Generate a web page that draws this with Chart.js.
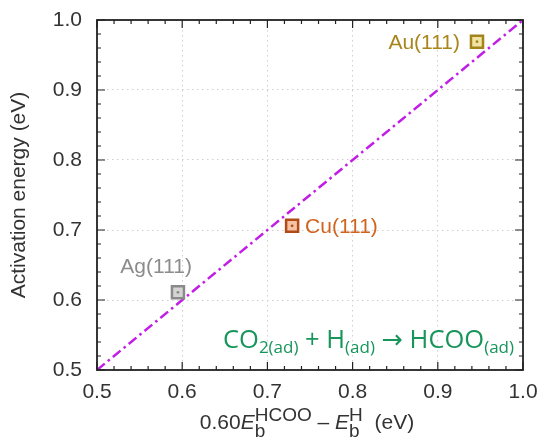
<!DOCTYPE html>
<html lang="en">
<head>
<meta charset="UTF-8">
<title>Activation energy vs binding-energy descriptor</title>
<script src="https://cdn.jsdelivr.net/npm/chart.js"></script>
<style>
  * { margin: 0; padding: 0; box-sizing: border-box; }
  html, body { width: 539px; height: 440px; background: #fff; overflow: hidden; }
</style>
</head>
<body>
<canvas id="chart" width="539" height="440"></canvas>
<script>
// values
const surfaces = ['Au(111)', 'Cu(111)', 'Ag(111)'];
const descriptor = [0.946, 0.729, 0.595];   // 0.60 Eb(HCOO) - Eb(H), eV
const barrier = [0.969, 0.706, 0.611];      // activation energy, eV
const parityX = [0.5, 1.0];
const parityY = [0.5, 1.0];
const tickValues = [0.5, 0.6, 0.7, 0.8, 0.9, 1.0];

// styling
const FONT = "'Liberation Sans', Arial, sans-serif";
const edgeColors = ['#a3841a', '#b24c17', '#8a8a8a'];
const fillColors = ['#f1e3a6', '#f4c3a3', '#d4d4d4'];
const textColors = ['#a8861c', '#cf641f', '#8c8c8c'];
// label placement relative to marker: [dx, dy, align]
const labelPlace = [[-17, 7, 'right'], [13, 7, 'left'], [14, -19, 'right']];

function drawRuns(ctx, runs, x, y, align, color) {
  const widthOf = r => {
    if (r.sub !== undefined || r.sup !== undefined) {
      ctx.font = r.size + 'px ' + r.family;
      return Math.max(ctx.measureText(r.sub || '').width, ctx.measureText(r.sup || '').width);
    }
    ctx.font = (r.italic ? 'italic ' : '') + r.size + 'px ' + r.family;
    return ctx.measureText(r.t).width;
  };
  const total = runs.reduce((s, r) => s + widthOf(r), 0);
  let cx = align === 'right' ? x - total : align === 'center' ? x - total / 2 : x;
  ctx.fillStyle = color;
  ctx.textAlign = 'left';
  ctx.textBaseline = 'alphabetic';
  runs.forEach(r => {
    const w = widthOf(r);
    if (r.sub !== undefined || r.sup !== undefined) {
      ctx.font = r.size + 'px ' + r.family;
      if (r.sub) ctx.fillText(r.sub, cx, y + r.subDy);
      if (r.sup) ctx.fillText(r.sup, cx, y + r.supDy);
    } else {
      ctx.font = (r.italic ? 'italic ' : '') + r.size + 'px ' + r.family;
      ctx.fillText(r.t, cx, y);
    }
    cx += w;
  });
}

const decorations = {
  id: 'decorations',
  afterDraw(chart) {
    const ctx = chart.ctx;
    const xs = chart.scales.x, ys = chart.scales.y;
    const a = chart.chartArea;
    ctx.save();

    // frame
    ctx.strokeStyle = '#222';
    ctx.lineWidth = 1.8;
    ctx.strokeRect(a.left, a.top, a.right - a.left, a.bottom - a.top);

    // inward ticks, minor every 0.02
    ctx.lineWidth = 1.2;
    ctx.beginPath();
    for (let i = 0; i <= 25; i++) {
      const v = 0.5 + i * 0.02;
      const len = i % 5 === 0 ? 8 : 4;
      const px = xs.getPixelForValue(v);
      const py = ys.getPixelForValue(v);
      ctx.moveTo(px, a.bottom); ctx.lineTo(px, a.bottom - len);
      ctx.moveTo(px, a.top); ctx.lineTo(px, a.top + len);
      ctx.moveTo(a.left, py); ctx.lineTo(a.left + len, py);
      ctx.moveTo(a.right, py); ctx.lineTo(a.right - len, py);
    }
    ctx.stroke();

    // point labels
    const meta = chart.getDatasetMeta(1);
    ctx.font = '21px ' + FONT;
    ctx.textBaseline = 'alphabetic';
    meta.data.forEach((pt, i) => {
      const [dx, dy, align] = labelPlace[i];
      ctx.fillStyle = textColors[i];
      ctx.textAlign = align;
      ctx.fillText(surfaces[i], pt.x + dx, pt.y + dy);
    });

    // reaction annotation
    const eqFont = "'Open Sans', 'DejaVu Sans', sans-serif";
    const big = 25.5, small = 17;
    drawRuns(ctx, [
      { t: 'CO', size: big, family: eqFont },
      { sub: '2(ad)', size: small, family: eqFont, subDy: 5 },
      { t: ' + H', size: big, family: eqFont },
      { sub: '(ad)', size: small, family: eqFont, subDy: 5 },
      { t: ' \u2192 HCOO', size: big, family: eqFont },
      { sub: '(ad)', size: small, family: eqFont, subDy: 5 }
    ], a.right - 9, a.bottom - 22, 'right', '#17955a');

    // x axis title
    drawRuns(ctx, [
      { t: '0.60', size: 21, family: FONT },
      { t: 'E', size: 21, family: FONT, italic: true },
      { sub: 'b', sup: 'HCOO', size: 19, family: FONT, subDy: 8, supDy: -8 },
      { t: ' \u2013 ', size: 21, family: FONT },
      { t: 'E', size: 21, family: FONT, italic: true },
      { sub: 'b', sup: 'H', size: 19, family: FONT, subDy: 8, supDy: -8 },
      { t: '  (eV)', size: 21, family: FONT }
    ], (a.left + a.right) / 2 - 3, 429, 'center', '#333');

    ctx.restore();
  }
};

const gridColor = c => (c.tick && (c.tick.value < 0.55 || c.tick.value > 0.95)) ? 'rgba(0,0,0,0)' : '#cfcfcf';
const noPad = s => { s.paddingTop = 0; s.paddingBottom = 0; s.paddingLeft = 0; s.paddingRight = 0; };

new Chart(document.getElementById('chart'), {
  type: 'scatter',
  data: {
    datasets: [
      {
        type: 'line',
        data: parityX.map((x, i) => ({ x: x, y: parityY[i] })),
        borderColor: '#c21de6',
        borderWidth: 2.5,
        borderDash: [10, 4, 2.5, 4],
        pointRadius: 0,
        fill: false,
        order: 3
      },
      {
        data: descriptor.map((x, i) => ({ x: x, y: barrier[i] })),
        pointStyle: 'rect',
        pointRadius: 8.5,
        pointBorderWidth: 2.5,
        pointBorderColor: edgeColors,
        pointBackgroundColor: fillColors,
        order: 2
      },
      {
        data: descriptor.map((x, i) => ({ x: x, y: barrier[i] })),
        pointStyle: 'circle',
        pointRadius: 1.4,
        pointBorderWidth: 0,
        pointBackgroundColor: edgeColors,
        order: 1
      }
    ]
  },
  options: {
    responsive: false,
    animation: false,
    devicePixelRatio: 1,
    layout: { padding: { left: 0, top: 20, right: 16, bottom: 0 } },
    plugins: { legend: { display: false }, tooltip: { enabled: false } },
    scales: {
      x: {
        type: 'linear',
        min: 0.5,
        max: 1.0,
        afterBuildTicks: s => { s.ticks = tickValues.map(v => ({ value: v })); },
        afterFit: s => { s.height = 70; noPad(s); },
        ticks: {
          callback: v => v.toFixed(1),
          font: { family: FONT, size: 21 },
          color: '#333',
          padding: 10,
          maxRotation: 0,
          autoSkip: false
        },
        grid: { drawTicks: false, color: gridColor, lineWidth: 1 },
        border: { display: false, dash: [1.5, 3.5] }
      },
      y: {
        type: 'linear',
        min: 0.5,
        max: 1.0,
        afterBuildTicks: s => { s.ticks = tickValues.map(v => ({ value: v })); },
        afterFit: s => { s.width = 97; noPad(s); },
        ticks: {
          callback: v => v.toFixed(1),
          font: { family: FONT, size: 21 },
          color: '#333',
          padding: 15,
          autoSkip: false
        },
        grid: { drawTicks: false, color: gridColor, lineWidth: 1 },
        border: { display: false, dash: [1.5, 3.5] },
        title: {
          display: true,
          text: 'Activation energy (eV)',
          font: { family: FONT, size: 21 },
          color: '#333',
          padding: { top: 7, bottom: 0 }
        }
      }
    }
  },
  plugins: [decorations]
});
</script>
</body>
</html>
